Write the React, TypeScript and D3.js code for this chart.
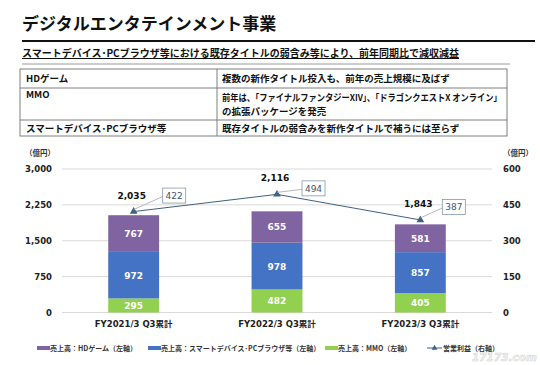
import * as d3 from "d3";

const periods = ["FY2021/3 Q3累計", "FY2022/3 Q3累計", "FY2023/3 Q3累計"];
const mmoSales = [295, 482, 405];
const smartSales = [972, 978, 857];
const hdSales = [767, 655, 581];
const totalSales = [2035, 2116, 1843];
const opProfit = [422, 494, 387];
const leftTicks = [0, 750, 1500, 2250, 3000];
const rightTicks = [0, 150, 300, 450, 600];

const seriesNames = ["売上高：HDゲーム（左軸）", "売上高：スマートデバイス･PCブラウザ等（左軸）", "売上高：MMO（左軸）"];
const lineName = "営業利益（右軸）";

const tableRows = [
  { k: "HDゲーム", v: ["複数の新作タイトル投入も、前年の売上規模に及ばず"] },
  { k: "MMO", v: ["前年は、「ファイナルファンタジーXIV」、「ドラゴンクエストX オンライン」", "の拡張パッケージを発売"] },
  { k: "スマートデバイス･PCブラウザ等", v: ["既存タイトルの弱含みを新作タイトルで補うには至らず"] },
];

const PURPLE = "#8064a2";
const BLUE = "#4472c4";
const GREEN = "#92d050";
const LINE = "#3f6080";
const FONT = "'DejaVu Sans', 'Noto Sans CJK JP', sans-serif";
const JP = "'Noto Sans CJK JP', sans-serif";

// label box offsets from marker (layout only)
const boxOffsets = [[40, -16], [36, -6], [33, -13]];

export default function App() {
  const W = 540, H = 365;
  const plot = { left: 62, right: 492, top: 169, bottom: 312.5 };

  const x = d3.scaleBand().domain(periods).range([plot.left, plot.right]).paddingInner(0.645).paddingOuter(0.3225);
  const yL = d3.scaleLinear().domain([0, 3000]).range([plot.bottom, plot.top]);
  const yR = d3.scaleLinear().domain([0, 600]).range([plot.bottom, plot.top]);

  const stackData = periods.map((p, i) => ({ p, mmo: mmoSales[i], smart: smartSales[i], hd: hdSales[i] }));
  const stack = d3.stack<any>().keys(["mmo", "smart", "hd"])(stackData);
  const colors = [GREEN, BLUE, PURPLE];

  const cx = (p: string) => (x(p) as number) + x.bandwidth() / 2;
  const pts = periods.map((p, i) => [cx(p), yR(opProfit[i])] as [number, number]);
  const lineGen = d3.line();

  const tri = d3.symbol().type(d3.symbolTriangle).size(26)();

  const rowY = [69, 88, 120, 136];
  const colX = [20, 217, 507];

  return (
    <svg width={W} height={H} style={{ position: "absolute", left: 0, top: 0, background: "#fff" }} fontFamily={FONT}>
      <rect width={W} height={H} fill="#fff" />
      {/* header */}
      <text x={22} y={30} fontSize={17} fontWeight="bold" fontFamily={JP} fill="#111">デジタルエンタテインメント事業</text>
      <line x1={22} x2={535} y1={41} y2={41} stroke="#111" strokeWidth={2} />
      <text x={22} y={57} fontSize={10} fontWeight="bold" fontFamily={JP} fill="#111" textDecoration="underline">
        スマートデバイス･PCブラウザ等における既存タイトルの弱含み等により、前年同期比で減収減益
      </text>
      <line x1={22} x2={510} y1={64} y2={64} stroke="#9a9a9a" strokeWidth={1} />

      {/* table */}
      <g fontFamily={JP} fontSize={9.5} fontWeight="bold" fill="#111">
        <rect x={colX[0]} y={rowY[0]} width={colX[2] - colX[0]} height={rowY[3] - rowY[0]} fill="none" stroke="#7f7f7f" />
        {rowY.slice(1, 3).map((y, i) => (
          <line key={i} x1={colX[0]} x2={colX[2]} y1={y} y2={y} stroke="#7f7f7f" />
        ))}
        <line x1={colX[1]} x2={colX[1]} y1={rowY[0]} y2={rowY[3]} stroke="#7f7f7f" />
        {tableRows.map((r, i) => {
          const top = rowY[i], bot = rowY[i + 1];
          const mid = (top + bot) / 2;
          const lh = 14;
          return (
            <g key={i}>
              <text x={26} y={r.v.length > 1 ? top + 10 : mid + 3.5}>{r.k}</text>
              {r.v.map((t, j) => {
                const ty = mid + 3.5 - ((r.v.length - 1) * lh) / 2 + j * lh;
                const sx = t.length > 30 ? 0.87 : 1;
                return (
                  <text key={j} transform={`translate(222,${ty}) scale(${sx},1)`}>
                    {t}
                  </text>
                );
              })}
            </g>
          );
        })}
      </g>

      {/* units */}
      <text x={25} y={156} fontSize={7.5} fontWeight="bold" fontFamily={JP} fill="#333">（億円）</text>
      <text x={503} y={156} fontSize={7.5} fontWeight="bold" fontFamily={JP} fill="#333">（億円）</text>

      {/* gridlines and axes */}
      {leftTicks.map((t) => (
        <g key={t}>
          <line x1={plot.left} x2={plot.right} y1={yL(t)} y2={yL(t)} stroke="#d9d9d9" strokeWidth={1} />
          <text x={52} y={yL(t) + 3} textAnchor="end" fontSize={8.5} fontWeight="bold" fill="#222">{d3.format(",")(t)}</text>
        </g>
      ))}
      {rightTicks.map((t) => (
        <text key={t} x={503} y={yR(t) + 3} fontSize={8.5} fontWeight="bold" fill="#222">{t}</text>
      ))}

      {/* bars */}
      {stack.map((s, si) => (
        <g key={si}>
          {s.map((d, i) => (
            <g key={i}>
              <rect x={x(periods[i])} y={yL(d[1])} width={x.bandwidth()} height={yL(d[0]) - yL(d[1])} fill={colors[si]} />
              <text x={cx(periods[i])} y={(yL(d[0]) + yL(d[1])) / 2 + 3.5} textAnchor="middle" fontSize={9} fontWeight="bold" fill="#fff">
                {d[1] - d[0]}
              </text>
            </g>
          ))}
        </g>
      ))}

      {/* totals */}
      {periods.map((p, i) => (
        <text key={p} x={cx(p) - 2} y={Math.min(yL(totalSales[i]), pts[i][1]) - 13} textAnchor="middle" fontSize={9} fontWeight="bold" fill="#111">
          {d3.format(",")(totalSales[i])}
        </text>
      ))}

      {/* operating profit line */}
      <path d={lineGen(pts) || ""} fill="none" stroke={LINE} strokeWidth={1} />
      {pts.map((pt, i) => (
        <path key={i} d={tri || ""} transform={`translate(${pt[0]},${pt[1]})`} fill={LINE} />
      ))}
      {pts.map((pt, i) => {
        const bx = pt[0] + boxOffsets[i][0];
        const by = pt[1] + boxOffsets[i][1];
        return (
          <g key={i}>
            <line x1={pt[0]} y1={pt[1] - 2} x2={bx - 11} y2={by + 1} stroke="#a6a6a6" strokeWidth={0.8} />
            <rect x={bx - 11} y={by - 7.5} width={23} height={15} fill="#fff" stroke="#8497b0" strokeWidth={0.8} />
            <text x={bx + 0.5} y={by + 3.2} textAnchor="middle" fontSize={9} fill="#44546a">{opProfit[i]}</text>
          </g>
        );
      })}

      {/* x labels */}
      {periods.map((p) => (
        <text key={p} x={cx(p)} y={327} textAnchor="middle" fontSize={8.5} fontWeight="bold" fill="#222">{p}</text>
      ))}

      {/* legend */}
      <g fontSize={7} fontWeight="bold" fill="#333" fontFamily={JP}>
        {[
          { c: PURPLE, x: 37, t: seriesNames[0] },
          { c: BLUE, x: 148, t: seriesNames[1] },
          { c: GREEN, x: 325, t: seriesNames[2] },
        ].map((l) => (
          <g key={l.t}>
            <rect x={l.x} y={346} width={13} height={4} fill={l.c} />
            <text x={l.x + 13} y={350.5}>{l.t}</text>
          </g>
        ))}
        <line x1={427} x2={442} y1={348} y2={348} stroke={LINE} strokeWidth={1} />
        <path d={d3.symbol().type(d3.symbolTriangle).size(14)() || ""} transform="translate(434.5,348)" fill={LINE} />
        <text x={443} y={350.5}>{lineName}</text>
      </g>

      {/* watermark */}
      <text x={472} y={361} fontSize={10.5} fontStyle="italic" fontWeight="bold" fill="#f2f2f2" stroke="#d4d4d4" strokeWidth={0.5}>17173.com</text>
    </svg>
  );
}
